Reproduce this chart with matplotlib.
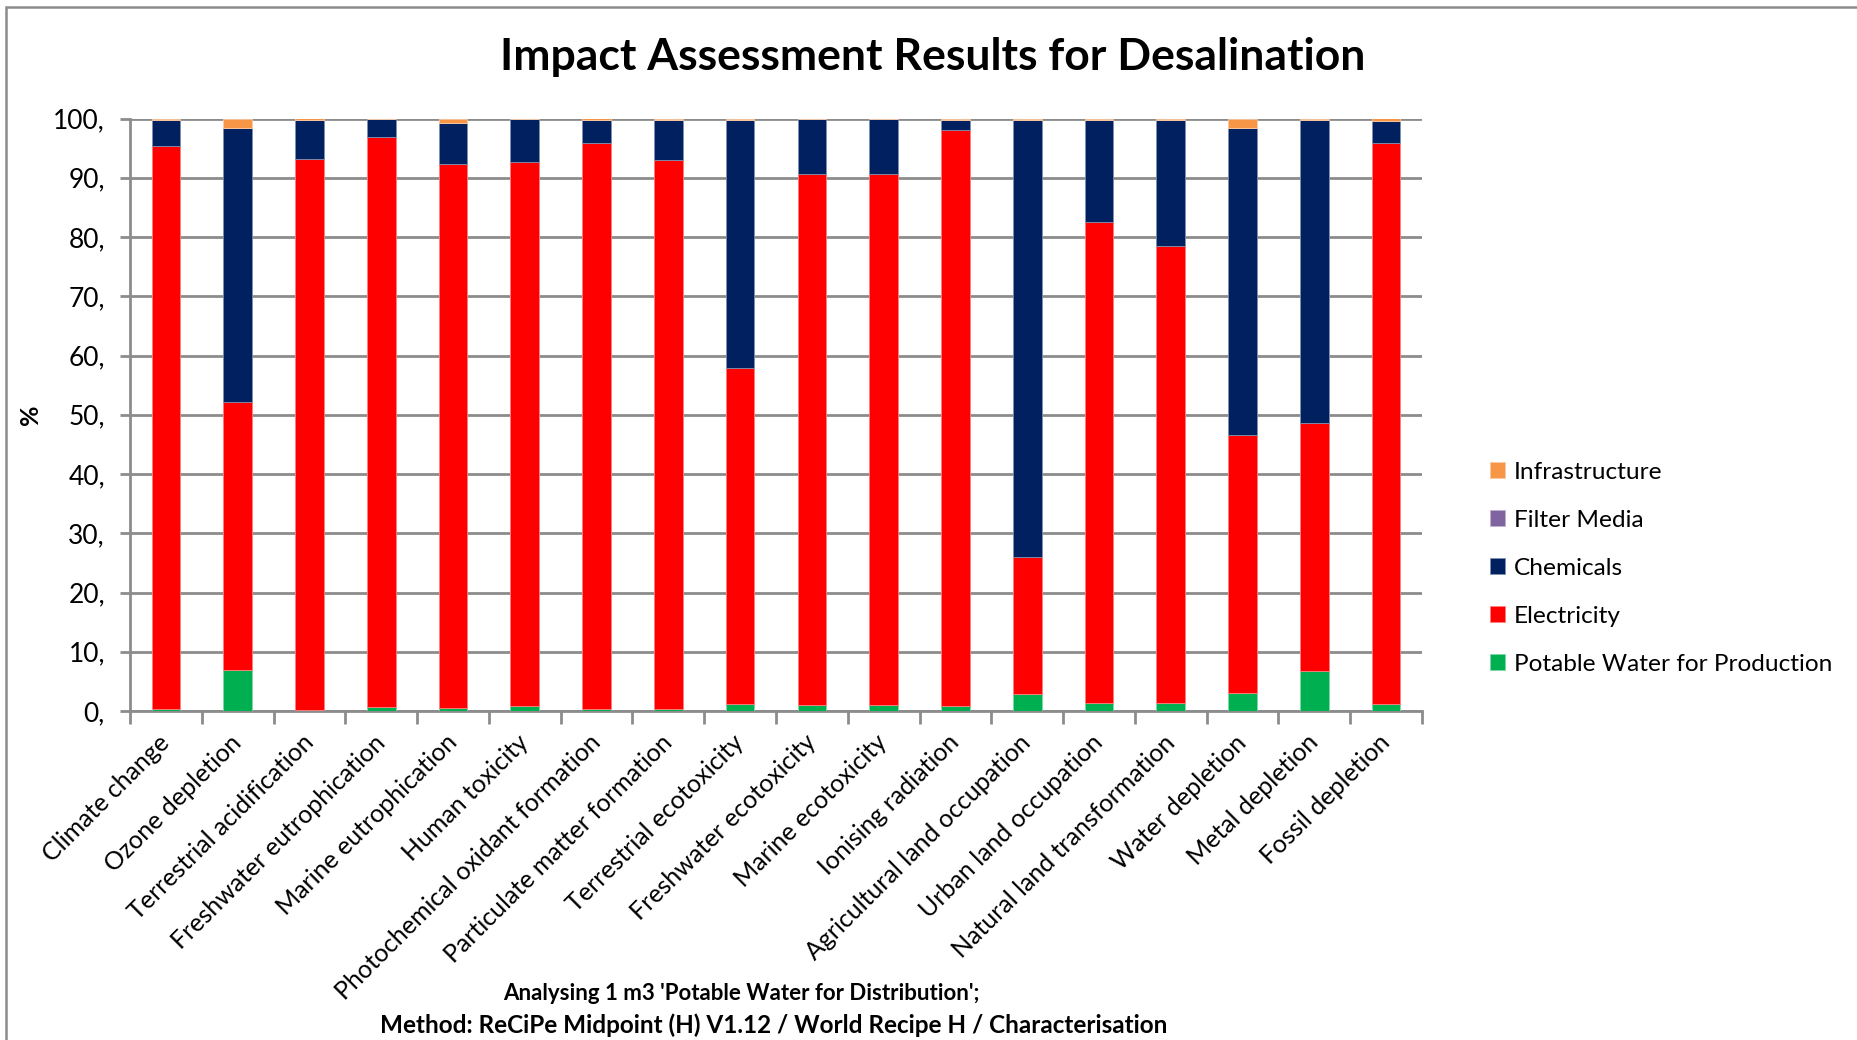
import matplotlib
matplotlib.use("Agg")
import matplotlib.pyplot as plt
import numpy as np
from matplotlib.patches import Rectangle

plt.rcParams['font.family'] = ['Lato', 'DejaVu Sans']

categories = [
    "Climate change", "Ozone depletion", "Terrestrial acidification",
    "Freshwater eutrophication", "Marine eutrophication", "Human toxicity",
    "Photochemical oxidant formation", "Particulate matter formation",
    "Terrestrial ecotoxicity", "Freshwater ecotoxicity", "Marine ecotoxicity",
    "Ionising radiation", "Agricultural land occupation", "Urban land occupation",
    "Natural land transformation", "Water depletion", "Metal depletion",
    "Fossil depletion",
]

# Contribution of each process to each impact category (%)
potable_water = [0.4, 6.9, 0.2, 0.7, 0.5, 0.85, 0.4, 0.3, 1.2, 1.0, 1.0, 0.8,
                 2.9, 1.35, 1.35, 3.0, 6.8, 1.25]
electricity = [95.0, 45.3, 92.9, 96.1, 91.8, 91.75, 95.4, 92.7, 56.7, 89.7, 89.7,
               97.3, 23.1, 81.25, 77.15, 43.5, 41.8, 94.55]
chemicals = [4.3, 46.2, 6.7, 3.2, 6.9, 7.4, 4.0, 6.8, 41.8, 9.2, 9.2, 1.7,
             73.8, 17.2, 21.3, 51.9, 51.2, 3.7]
filter_media = [0.0] * 18
infrastructure = [0.3, 1.6, 0.2, 0.0, 0.8, 0.0, 0.2, 0.2, 0.3, 0.1, 0.1, 0.2,
                  0.2, 0.2, 0.2, 1.6, 0.2, 0.5]

series = [
    ("Potable Water for Production", potable_water, "#00B050", "#7fd8a7"),
    ("Electricity", electricity, "#FF0000", "#ff8080"),
    ("Chemicals", chemicals, "#002060", "#7f8fb0"),
    ("Filter Media", filter_media, "#8064A2", "#bfb1d0"),
    ("Infrastructure", infrastructure, "#F79646", "#fbcaa2"),
]

yticks = list(range(0, 101, 10))
ytick_labels = [f"{v}," for v in yticks]

fig = plt.figure(figsize=(18.58, 10.40), dpi=100)
ax = fig.add_axes([130 / 1858, 1 - 711 / 1040, (1422 - 130) / 1858, (711 - 118.5) / 1040])

x = np.arange(len(categories))
bottom = np.zeros(len(categories))
handles = []
for name, vals, color, edge in series:
    vals = np.array(vals)
    bars = ax.bar(x, vals, width=0.4, bottom=bottom, color=color,
                  edgecolor=edge, linewidth=0.6, label=name, zorder=3)
    handles.append(bars)
    bottom += vals

ax.set_xlim(-0.5, len(categories) - 0.5)
ax.set_ylim(0, 100)
ax.set_yticks(yticks)
ax.set_yticklabels(ytick_labels, fontsize=19)
ax.yaxis.grid(True, color="#8c8c8c", linewidth=2, zorder=0)
ax.set_axisbelow(True)

# category labels and boundary ticks on the x axis
ax.set_xticks(x)
ax.set_xticklabels(categories, rotation=45, ha="right", va="center",
                   rotation_mode="anchor", fontsize=18)
ax.tick_params(axis="x", length=0, pad=20)
ax.set_xticks(np.arange(-0.5, len(categories)), minor=True)
ax.tick_params(axis="x", which="minor", length=9, width=2, color="#8c8c8c")
ax.tick_params(axis="y", length=7, width=2, color="#8c8c8c", pad=11)

for side in ["top", "right"]:
    ax.spines[side].set_visible(False)
for side in ["left", "bottom"]:
    ax.spines[side].set_color("#8c8c8c")
    ax.spines[side].set_linewidth(2)

ax.set_ylabel("%", fontsize=18, fontweight="bold", labelpad=8)

fig.text(933 / 1858, 1 - 57 / 1040, "Impact Assessment Results for Desalination",
         ha="center", va="center", fontsize=32, fontweight="bold")

fig.text(741 / 1858, 1 - 993 / 1040,
         "Analysing 1 m3 'Potable Water for Distribution';",
         ha="center", va="center", fontsize=16, fontweight="bold")
fig.text(774 / 1858, 1 - 1025 / 1040,
         "Method: ReCiPe Midpoint (H) V1.12 / World Recipe H / Characterisation",
         ha="center", va="center", fontsize=17.5, fontweight="bold")

leg = fig.legend(handles[::-1], [s[0] for s in series][::-1],
                 loc="upper left", bbox_to_anchor=(1468 / 1858, 1 - 440 / 1040),
                 frameon=False, fontsize=17.6, handlelength=0.62, handleheight=0.62,
                 handletextpad=0.35, labelspacing=1.1)

# chart border
fig.patches.append(Rectangle((6.5 / 1858, -0.1), 1.2, 1.1 - 6.5 / 1040,
                             transform=fig.transFigure, fill=False,
                             edgecolor="#8c8c8c", linewidth=1.8))

fig.savefig("out.png", dpi=100)
